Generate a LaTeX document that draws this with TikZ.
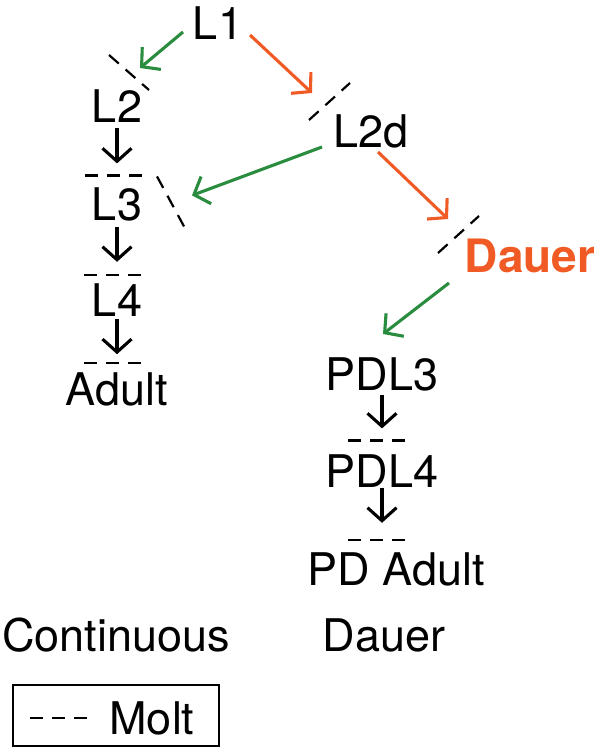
\documentclass[tikz,border=0pt]{standalone}
\usepackage{fontspec}
\setmainfont{TeX Gyre Heros}
\usetikzlibrary{arrows.meta,positioning}
\definecolor{arrestorange}{RGB}{240,90,36}
\definecolor{resumegreen}{RGB}{42,140,62}
\tikzset{
  stage/.style={inner sep=0pt, text height=32pt, text depth=0pt,
    font=\fontsize{45}{50}\selectfont},
  molt/.style={line width=2.2pt, dash pattern=on 13pt off 9pt},
  develop/.style={line width=3.1pt, -{Straight Barb[length=13pt,width=29pt]}},
  resume/.style={develop, resumegreen},
  arrest/.style={develop, arrestorange},
}
\begin{document}
\begin{tikzpicture}[x=1pt, y=-1pt]
  \useasboundingbox (0,0) rectangle (600,750);
  % continuous development
  \node [stage] (l1) at (218,23) {L1};
  \node [stage] (l2) at (117,106) {L2};
  \node [stage, below=66pt of l2] (l3) {L3};
  \node [stage, below=64pt of l3] (l4) {L4};
  \node [stage, below=56pt of l4] (adult) {Adult};
  % dauer route
  \node [stage] (l2d) at (371,131) {L2d};
  \node [stage, font=\fontsize{46}{50}\selectfont\bfseries, text=arrestorange] (dauer) at (530,256) {Dauer};
  \node [stage] (pdl3) at (382,374) {PDL3};
  \node [stage, below=65pt of pdl3] (pdl4) {PDL4};
  \node [stage, below=66pt of pdl4, xshift=14pt] (pdadult) {PD Adult};
  % column labels and key
  \node [stage] (cont) at (116,635) {Continuous};
  \node [stage] (dlabel) at (384,635) {Dauer};
  \node [draw, line width=1.5pt, inner sep=0pt, minimum width=206pt, minimum height=61pt] (key) at (116,715.5) {};
  \node [stage] (molt) at (152,718) {Molt};

  % molts
  \draw [molt] ([shift={(-8,-51)}]l2.center) -- ([shift={(32,-16)}]l2.center);
  \draw [molt] ([shift={(-32,-29)}]l3.center) -- ++(58,0);
  \draw [molt] ([shift={(40,-28)}]l3.center) -- ([shift={(67,22)}]l3.center);
  \draw [molt] ([shift={(-33,-26)}]l4.center) -- ++(58,0);
  \draw [molt] ([shift={(-33,-26)}]adult.center) -- ++(58,0);
  \draw [molt] ([shift={(-62,-11)}]l2d.center) -- ([shift={(-21,-48)}]l2d.center);
  \draw [molt] ([shift={(-92,-3)}]dauer.center) -- ([shift={(-51,-40)}]dauer.center);
  \draw [molt] ([shift={(-34,-31)}]pdl4.center) -- ++(59,0);
  \draw [molt] ([shift={(-48,-30)}]pdadult.center) -- ++(59,0);
  \draw [molt] ([shift={(-86,2.5)}]key.center) -- ++(58,0);

  % transitions
  \draw [resume] ([shift={(-35,9)}]l1.center) -- ([shift={(23,-38)}]l2.center);
  \draw [arrest] ([shift={(32,12)}]l1.center) -- ([shift={(-59,-38)}]l2d.center);
  \draw [resume] ([shift={(-49,16)}]l2d.center) -- ([shift={(75,-9)}]l3.center);
  \draw [arrest] ([shift={(7,21)}]l2d.center) -- ([shift={(-82,-37)}]dauer.center);
  \draw [resume] ([shift={(-81,27)}]dauer.center) -- ([shift={(1,-40)}]pdl3.center);
  \draw [develop] ([yshift=-22pt]l2.center) -- ([yshift=41pt]l3.center);
  \draw [develop] ([yshift=-23pt]l3.center) -- ([yshift=39pt]l4.center);
  \draw [develop] ([yshift=-18pt]l4.center) -- ([yshift=35pt]adult.center);
  \draw [develop] ([yshift=-21pt]pdl3.center) -- ([yshift=43pt]pdl4.center);
  \draw [develop] ([yshift=-17pt]pdl4.center) -- ([shift={(-14,-47)}]pdadult.center);
\end{tikzpicture}
\end{document}
